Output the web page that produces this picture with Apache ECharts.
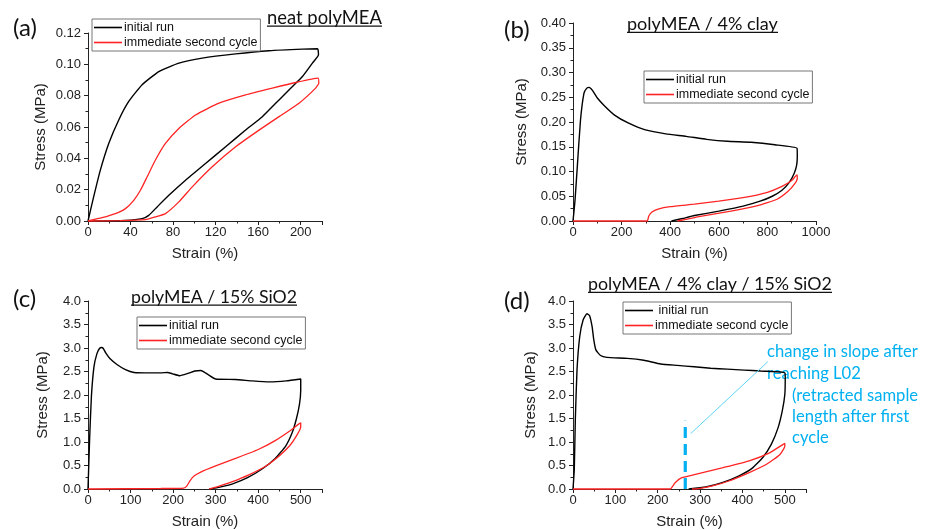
<!DOCTYPE html>
<html>
<head>
<meta charset="utf-8">
<script src="https://cdn.jsdelivr.net/npm/echarts@6.0.0/dist/echarts.min.js"></script>
<style>
  html, body { margin: 0; padding: 0; background: #fff; }
  #chart { width: 926px; height: 530px; }
</style>
</head>
<body>
<div id="chart"></div>
<script>
// strain (%) / stress (MPa) pairs, loading branch then unloading branch
const aInitial = [
  [0, 0], [5.3, 0.0154], [11.6, 0.0325], [19.5, 0.0495], [28.9, 0.0645], [38.3, 0.0763], [50.9, 0.087],
  [66.6, 0.0954], [85.5, 0.1008], [107.4, 0.104], [138.8, 0.1067], [170.2, 0.1087], [201.6, 0.1097],
  [215.7, 0.1099], [216.3, 0.1093], [216.7, 0.1061], [211, 0.1008], [201.6, 0.0922], [192.2, 0.0858],
  [179.6, 0.0773], [163.9, 0.0666], [148.2, 0.0581], [129.4, 0.0474], [110.5, 0.0367], [91.7, 0.026],
  [76, 0.0164], [65, 0.009], [57.1, 0.0036], [50.9, 0.0015], [35.2, 0.0004], [0, 0]
];
const aSecond = [
  [0, 0], [13.2, 0.0021], [25.7, 0.0047], [35.2, 0.0079], [43, 0.0132], [49.3, 0.0196], [55.6, 0.0282],
  [63.4, 0.0389], [72.8, 0.0495], [85.4, 0.0591], [101.1, 0.0677], [123.1, 0.0752], [148.2, 0.0805],
  [173.3, 0.0848], [195.3, 0.0884], [216.3, 0.0912], [217, 0.088], [214, 0.0848], [198.4, 0.0752],
  [179.6, 0.0666], [160.8, 0.058], [138.8, 0.0474], [116.8, 0.0346], [98, 0.0218], [85.4, 0.0122],
  [72.8, 0.0047], [63.4, 0.0026], [54, 0.0009], [30, 0.0002], [0, 0]
];
const bInitial = [
  [0, 0], [8, 0.04], [16.8, 0.103], [30.9, 0.204], [45, 0.258], [56, 0.268], [66, 0.27], [80, 0.264],
  [101, 0.248], [129, 0.233], [171, 0.214], [227, 0.198], [298, 0.184], [382, 0.176], [466, 0.171],
  [550, 0.165], [635, 0.161], [733, 0.159], [831, 0.154], [922, 0.147], [923, 0.13], [920, 0.112],
  [910, 0.096], [890, 0.078], [860, 0.062], [820, 0.05], [770, 0.04], [700, 0.03], [600, 0.02],
  [500, 0.011], [450, 0.005], [405, 0]
];
const bSecond = [
  [0, 0], [305, 0], [312, 0.01], [325, 0.018], [350, 0.024], [400, 0.029], [500, 0.034], [600, 0.04],
  [700, 0.047], [800, 0.058], [860, 0.07], [900, 0.082], [922, 0.093], [923, 0.086], [912, 0.075],
  [885, 0.06], [840, 0.044], [760, 0.031], [650, 0.02], [530, 0.01], [460, 0.003], [430, 0]
];
const cInitial = [
  [0, 0], [4, 1.12], [8, 1.97], [14, 2.6], [21, 2.88], [27, 2.99], [32, 3.01], [36, 2.99], [42, 2.89],
  [52, 2.77], [68, 2.65], [88, 2.54], [108, 2.48], [147, 2.47], [171, 2.47], [187, 2.48], [199, 2.45],
  [215, 2.41], [235, 2.46], [251, 2.51], [265, 2.52], [283, 2.43], [300, 2.34], [346, 2.33], [386, 2.3],
  [426, 2.28], [466, 2.3], [500, 2.34], [500, 2.1], [497, 1.8], [490, 1.5], [480, 1.2], [465, 0.92],
  [440, 0.65], [410, 0.43], [375, 0.24], [340, 0.11], [310, 0.04], [285, 0]
];
const cSecond = [
  [0, 0], [170, 0.01], [225, 0.02], [232, 0.06], [240, 0.18], [250, 0.28], [265, 0.36], [300, 0.49],
  [350, 0.66], [400, 0.84], [440, 1.03], [475, 1.24], [495, 1.38], [500, 1.41], [500, 1.32], [490, 1.13],
  [474, 0.92], [450, 0.71], [418, 0.49], [378, 0.3], [338, 0.15], [305, 0.05], [285, 0]
];
const dInitial = [
  [0, 0], [3, 0.41], [5.5, 1.48], [9.5, 2.54], [16, 3.25], [24, 3.6], [33, 3.73], [39, 3.69], [45, 3.46],
  [49, 3.18], [54, 2.96], [65, 2.84], [80, 2.8], [128, 2.78], [167, 2.74], [207, 2.66], [246, 2.63],
  [286, 2.6], [325, 2.57], [364, 2.55], [404, 2.53], [443, 2.51], [490, 2.49], [500, 2.47], [501, 2.37],
  [500, 2.01], [494, 1.66], [484, 1.3], [468, 0.95], [448, 0.67], [424, 0.45], [392, 0.28], [352, 0.134],
  [313, 0.043], [273, 0]
];
const dSecond = [
  [0, 0], [229, 0], [241, 0.134], [257, 0.24], [289, 0.31], [352, 0.45], [416, 0.6], [464, 0.77],
  [496, 0.95], [500, 0.97], [500, 0.91], [488, 0.73], [456, 0.52], [416, 0.35], [368, 0.17],
  [329, 0.064], [297, 0.006], [281, 0]
];
// L02 marker and pointer line in panel (d)
const dL02Line = [[265, 0], [265, 1.45]];
const dPointer = [[278, 1.18], [460, 2.71]];

const seriesNames = ['initial run', 'immediate second cycle'];
const panelTitles = ['neat polyMEA', 'polyMEA / 4% clay', 'polyMEA / 15% SiO2', 'polyMEA / 4% clay / 15% SiO2'];
const panelLetters = ['(a)', '(b)', '(c)', '(d)'];
const xRanges = [[0, 220, 40], [0, 1000, 200], [0, 550, 100], [0, 550, 100]];
const yRanges = [[0, 0.12, 0.02, 2], [0, 0.4, 0.05, 2], [0, 4, 0.5, 1], [0, 4, 0.5, 1]];
const noteLines = ['change in slope after', 'reaching L02', '(retracted sample', 'length after first', 'cycle'];

const TICK_FONT = 'Liberation Sans';
const TITLE_FONT = 'Lato';
const CYAN = '#00b0f0';

const grids = [
  { left: 88, top: 33, width: 234, height: 188 },
  { left: 573, top: 23, width: 243, height: 198 },
  { left: 88, top: 301, width: 234, height: 188 },
  { left: 573, top: 301, width: 233, height: 188 }
];
const yNameGaps = [40, 44, 38, 35];
const legendPos = [[92, 19], [644, 71], [137, 317], [623, 302]];

const ctx = document.createElement('canvas').getContext('2d');
function textWidth(text, font) {
  ctx.font = font;
  return ctx.measureText(text).width;
}

// underlined heading, sized so it spans the same width as in the picture
function heading(text, x, baseline, width) {
  const size = 10 * width / textWidth(text, '10px ' + TITLE_FONT);
  return [
    { type: 'text', x: x, y: baseline - 0.32 * size,
      style: { text: text, font: size.toFixed(2) + 'px ' + TITLE_FONT, fill: '#111', verticalAlign: 'middle' } },
    { type: 'rect', shape: { x: x, y: baseline + 2, width: width, height: 1.3 }, style: { fill: '#111' } }
  ];
}

const xAxes = xRanges.map((r, i) => ({
  type: 'value', gridIndex: i, min: r[0], max: r[1], interval: r[2],
  name: 'Strain (%)', nameLocation: 'middle', nameGap: 25,
  nameTextStyle: { fontFamily: TICK_FONT, fontSize: 15, color: '#222' },
  axisLine: { show: true, lineStyle: { color: '#222', width: 1 } },
  axisTick: { show: true, inside: false, length: 4, lineStyle: { color: '#222' } },
  minorTick: { show: true, splitNumber: 2, length: 2.5, lineStyle: { color: '#222' } },
  splitLine: { show: false },
  axisLabel: { fontFamily: TICK_FONT, fontSize: 13, color: '#222', margin: 5,
    showMaxLabel: r[1] % r[2] === 0, formatter: v => String(v) }
}));

const yAxes = yRanges.map((r, i) => ({
  type: 'value', gridIndex: i, min: r[0], max: r[1], interval: r[2],
  name: 'Stress (MPa)', nameLocation: 'middle', nameGap: yNameGaps[i],
  nameTextStyle: { fontFamily: TICK_FONT, fontSize: 15, color: '#222' },
  axisLine: { show: true, lineStyle: { color: '#222', width: 1 } },
  axisTick: { show: true, inside: false, length: 4, lineStyle: { color: '#222' } },
  minorTick: { show: true, splitNumber: 2, length: 2.5, lineStyle: { color: '#222' } },
  splitLine: { show: false },
  axisLabel: { fontFamily: TICK_FONT, fontSize: 13, color: '#222', margin: 7,
    formatter: v => v.toFixed(r[3]) }
}));

function curve(name, data, idx, color, width) {
  return {
    type: 'line', name: name, data: data, xAxisIndex: idx, yAxisIndex: idx,
    symbol: 'none', smooth: 0.15, clip: false,
    lineStyle: { color: color, width: width }, itemStyle: { color: color }
  };
}

const panelData = [[aInitial, aSecond], [bInitial, bSecond], [cInitial, cSecond], [dInitial, dSecond]];
const series = [];
panelData.forEach((pair, i) => {
  series.push(curve(seriesNames[0], pair[0], i, '#000', 1.4));
  series.push(curve(seriesNames[1], pair[1], i, '#ff2424', 1.3));
});
series.push({
  type: 'line', data: dL02Line, xAxisIndex: 3, yAxisIndex: 3, symbol: 'none', silent: true,
  lineStyle: { color: CYAN, width: 3.2, type: [11, 6] }
});
series.push({
  type: 'line', data: dPointer, xAxisIndex: 3, yAxisIndex: 3, symbol: 'none', silent: true,
  lineStyle: { color: '#5fd4f6', width: 1 }
});

const legends = legendPos.map((p, i) => ({
  data: seriesNames, orient: 'vertical', left: p[0], top: p[1],
  selectedMode: false, backgroundColor: '#fff', icon: 'rect',
  borderColor: '#777', borderWidth: 1, borderRadius: 0, padding: [2, 3, 2, 2],
  itemGap: 2, itemWidth: 28, itemHeight: 1.6,
  formatter: n => (i === 3 && n === seriesNames[0]) ? ' ' + n : n,
  textStyle: { fontFamily: TICK_FONT, fontSize: 12.5, color: '#111', padding: [0, 0, 0, -3] }
}));

const titleSpots = [[267, 23.5, 115], [627, 29.8, 151], [131, 302.5, 166], [588, 289.8, 244]];
const letterSpots = [[13, 28], [504, 30], [13, 299], [504, 301]];
const noteSpots = [[767, 357.3], [767, 379], [792, 400.7], [792, 421.7], [792, 442.5]];

const graphics = [];
panelTitles.forEach((t, i) => {
  const s = titleSpots[i];
  heading(t, s[0], s[1], s[2]).forEach(g => graphics.push(g));
});
panelLetters.forEach((t, i) => {
  graphics.push({ type: 'text', x: letterSpots[i][0], y: letterSpots[i][1],
    style: { text: t, font: '24px ' + TITLE_FONT, fill: '#111', verticalAlign: 'middle' } });
});
const noteSize = 10 * 151 / textWidth(noteLines[0], '10px ' + TITLE_FONT);
noteLines.forEach((t, i) => {
  graphics.push({ type: 'text', x: noteSpots[i][0], y: noteSpots[i][1] - 0.32 * noteSize,
    style: { text: t, font: noteSize.toFixed(2) + 'px ' + TITLE_FONT, fill: CYAN, verticalAlign: 'middle' } });
});

const chart = echarts.init(document.getElementById('chart'), null, { renderer: 'canvas' });
chart.setOption({
  animation: false,
  backgroundColor: '#fff',
  grid: grids,
  xAxis: xAxes,
  yAxis: yAxes,
  legend: legends,
  series: series,
  graphic: graphics
});
</script>
</body>
</html>
